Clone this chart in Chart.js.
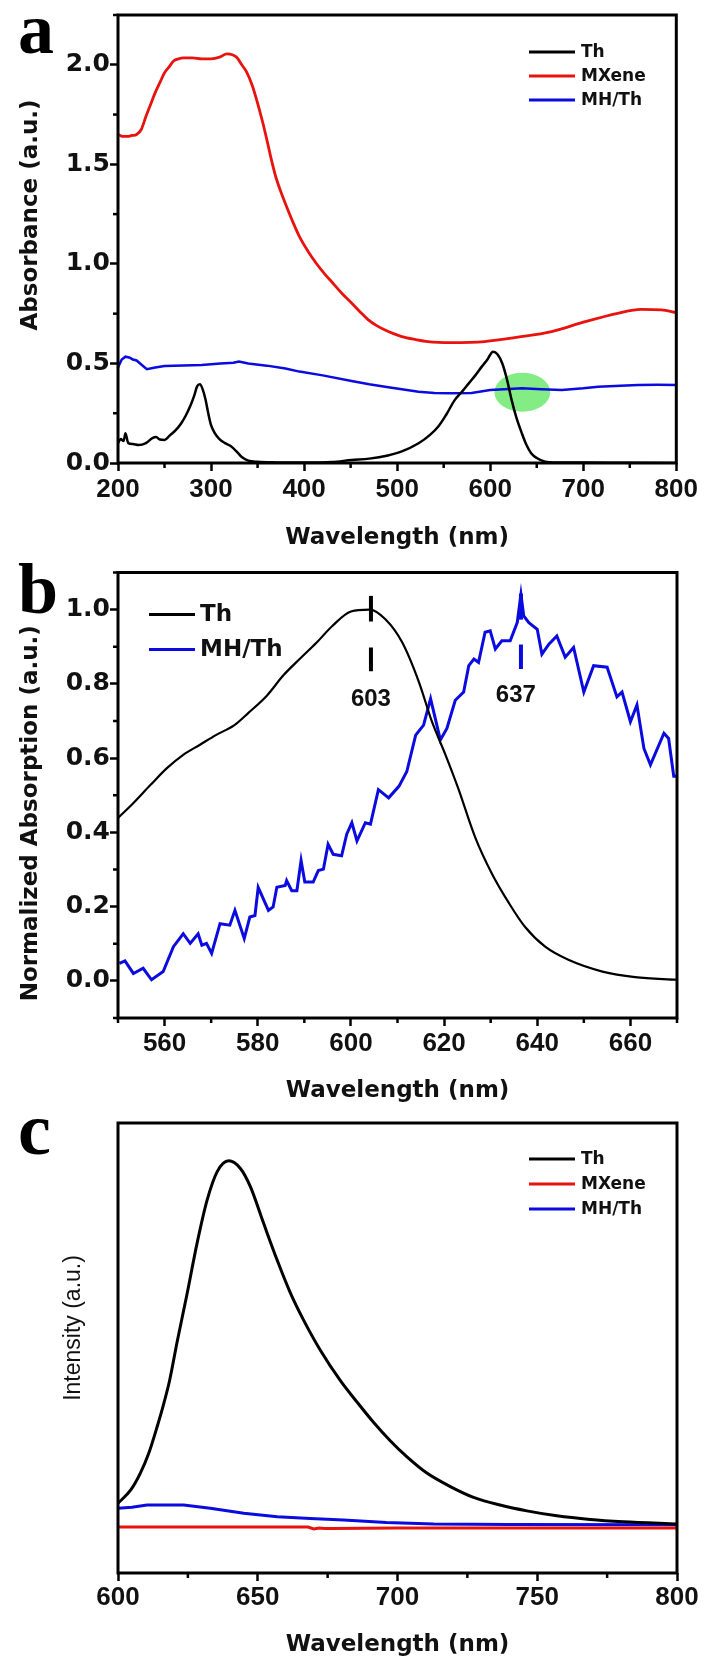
<!DOCTYPE html>
<html>
<head>
<meta charset="utf-8">
<script src="https://cdn.jsdelivr.net/npm/chart.js@4.4.1/dist/chart.umd.min.js"></script>
<style>
  html, body { margin: 0; padding: 0; background: #fff; }
  body { width: 704px; height: 1660px; position: relative; overflow: hidden; }
  canvas { position: absolute; left: 0; }
  .tag { position: absolute; left: 18px; z-index: 2; font-family: "Liberation Serif", "Times New Roman", serif; font-weight: bold; color: #000; line-height: 1; }
</style>
</head>
<body>
<canvas id="chartA" width="704" height="560" style="top:0"></canvas>
<canvas id="chartB" width="704" height="550" style="top:560px"></canvas>
<canvas id="chartC" width="704" height="550" style="top:1110px"></canvas>
<div class="tag" style="top:-7px;font-size:72px">a</div>
<div class="tag" style="top:553px;font-size:72px">b</div>
<div class="tag" style="top:1092px;font-size:74px">c</div>
<script>
// ---- panel a : UV-vis absorbance ----
const thAx = [200, 203, 206, 208, 211, 216, 222, 230, 237, 241,
              245, 250, 256, 262, 268, 273, 278, 282, 285, 288,
              291, 294, 297, 300, 304, 309, 315, 321, 327, 333,
              340, 350, 370, 400, 430, 451, 470, 490, 505, 523,
              535, 544, 553, 562, 570, 577, 584, 591, 597, 603,
              608, 613, 618, 623, 628, 634, 639, 644, 650, 659,
              670, 700, 750, 800];
const thAy = [0.10, 0.12, 0.11, 0.15, 0.10, 0.095, 0.09, 0.10, 0.125, 0.13,
              0.118, 0.116, 0.14, 0.165, 0.2, 0.24, 0.29, 0.34, 0.385, 0.395,
              0.37, 0.32, 0.25, 0.19, 0.15, 0.12, 0.1, 0.085, 0.06, 0.03,
              0.012, 0.006, 0.003, 0.002, 0.005, 0.015, 0.022, 0.038, 0.058, 0.099,
              0.14, 0.182, 0.245, 0.317, 0.36, 0.4, 0.44, 0.484, 0.52, 0.559,
              0.545, 0.5, 0.42, 0.317, 0.23, 0.149, 0.09, 0.049, 0.025, 0.007,
              0.003, 0.002, 0.001, 0];

const mxAx = [200, 205, 210, 215, 220, 225, 230, 235, 240, 245,
              250, 255, 260, 265, 270, 280, 290, 300, 310, 317,
              323, 328, 333, 338, 344, 349, 355, 360, 365, 370,
              376, 381, 388, 395, 404, 413, 422, 431, 441, 451,
              460, 469, 478, 487, 496, 505, 520, 533, 558, 594,
              630, 666, 702, 737, 762, 784, 800];
const mxAy = [1.65, 1.64, 1.64, 1.645, 1.65, 1.675, 1.74, 1.8, 1.86, 1.91,
              1.96, 1.99, 2.02, 2.03, 2.035, 2.035, 2.03, 2.03, 2.04, 2.055,
              2.05, 2.035, 2.0, 1.966, 1.9, 1.824, 1.72, 1.623, 1.52, 1.43,
              1.35, 1.29, 1.21, 1.137, 1.065, 1.003, 0.95, 0.903, 0.85, 0.804,
              0.76, 0.719, 0.69, 0.668, 0.65, 0.635, 0.62, 0.61, 0.605, 0.61,
              0.632, 0.66, 0.71, 0.752, 0.772, 0.769, 0.755];

const mhAx = [200, 204, 208, 212, 216, 220, 225, 231, 240, 250,
              270, 290, 310, 324, 330, 340, 360, 380, 395, 420,
              451, 470, 487, 505, 523, 540, 558, 580, 600, 620,
              634, 655, 677, 700, 716, 740, 759, 780, 800];
const mhAy = [0.48, 0.52, 0.534, 0.53, 0.52, 0.515, 0.495, 0.471, 0.48, 0.487,
              0.49, 0.492, 0.5, 0.504, 0.51, 0.5, 0.489, 0.475, 0.459, 0.44,
              0.412, 0.395, 0.383, 0.37, 0.358, 0.352, 0.35, 0.352, 0.367, 0.372,
              0.375, 0.37, 0.367, 0.375, 0.383, 0.388, 0.392, 0.393, 0.392];

// ---- panel b : normalized absorption ----
const thBx = [550, 553, 557, 560.5, 564, 567.6, 571, 575, 578, 582,
              585.5, 589, 592.7, 596, 600, 604, 607.4, 611, 614.6, 617.4,
              620.3, 623, 626.7, 630.3, 634, 637.4, 641.7, 646.8, 654, 661,
              670];
const thBy = [0.439, 0.475, 0.528, 0.573, 0.609, 0.636, 0.662, 0.689, 0.722, 0.769,
              0.823, 0.867, 0.912, 0.956, 0.995, 1.0, 0.974, 0.912, 0.805, 0.698,
              0.609, 0.52, 0.386, 0.288, 0.208, 0.145, 0.092, 0.056, 0.025, 0.01,
              0.003];

const mhBx = [550.3, 551.5, 553.3, 555.4, 557.2, 559.7, 561.9, 564, 565.5, 567.2,
              568, 569, 570.1, 571.9, 574, 575.1, 577.1, 578.3, 579.4, 580.1,
              582.3, 583.3, 584.1, 585.9, 586.2, 587.3, 588.4, 589.3, 590.1, 591.9,
              593, 594.1, 595.1, 596.2, 598, 599.1, 600.2, 601.3, 603.1, 604.2,
              605.9, 608.1, 610.3, 612, 613.9, 615.6, 617.1, 619.2, 620.6, 622.4,
              624.2, 625.3, 626.4, 627.4, 628.8, 629.9, 631, 632.4, 634.2, 635.7,
              636.5, 637.1, 638.2, 640, 641, 642.5, 644.2, 646, 647.8, 650,
              652.1, 655, 657.1, 658.2, 660, 661.4, 662.9, 664.3, 667.2, 668.2,
              669.3, 670];
const mhBy = [0.047, 0.054, 0.02, 0.034, 0.003, 0.025, 0.092, 0.127, 0.101, 0.127,
              0.096, 0.101, 0.074, 0.154, 0.15, 0.19, 0.114, 0.172, 0.176, 0.252,
              0.19, 0.199, 0.252, 0.257, 0.27, 0.243, 0.243, 0.324, 0.266, 0.266,
              0.297, 0.301, 0.368, 0.341, 0.337, 0.395, 0.426, 0.377, 0.426, 0.422,
              0.515, 0.493, 0.524, 0.564, 0.662, 0.689, 0.76, 0.649, 0.68, 0.756,
              0.778, 0.849, 0.867, 0.858, 0.939, 0.943, 0.894, 0.916, 0.916, 0.965,
              1.041, 0.983, 0.965, 0.947, 0.88, 0.907, 0.929, 0.872, 0.898, 0.778,
              0.849, 0.845, 0.765, 0.778, 0.698, 0.743, 0.626, 0.582, 0.667, 0.653,
              0.551, 0.551];

// ---- panel c : fluorescence (arbitrary units, no y ticks) ----
const thCx = [600, 604.5, 608, 611, 614, 616.4, 618.5, 621.2, 624.7, 628.3,
              631.9, 635.5, 639.6, 643.8, 647.4, 652.1, 656.9, 661.7, 666.4, 672.4,
              679.5, 685.5, 691.4, 697.4, 703.4, 710.5, 718.9, 727.2, 736.7, 746.3,
              757, 768.9, 780.8, 800];
const thCy = [0.155, 0.184, 0.222, 0.266, 0.325, 0.377, 0.429, 0.515, 0.62, 0.733,
              0.829, 0.892, 0.916, 0.899, 0.858, 0.777, 0.696, 0.622, 0.562, 0.495,
              0.428, 0.38, 0.335, 0.294, 0.258, 0.222, 0.192, 0.168, 0.151, 0.138,
              0.127, 0.119, 0.114, 0.109];
const mxCx = [600, 640, 668, 670, 672, 674, 676, 700, 740, 800];
const mxCy = [0.102, 0.102, 0.102, 0.098, 0.1, 0.099, 0.099, 0.1, 0.1, 0.1];
const mhCx = [600, 605, 610.4, 623.5, 633, 645, 657, 668.8, 680.7, 696,
              713, 740, 800];
const mhCy = [0.144, 0.146, 0.151, 0.151, 0.144, 0.133, 0.125, 0.121, 0.118, 0.112,
              0.109, 0.108, 0.107];

// ---- tick labels ----
const tickAx = [200, 300, 400, 500, 600, 700, 800];
const tickAy = [0, 0.5, 1.0, 1.5, 2.0];
const tickBx = [560, 580, 600, 620, 640, 660];
const tickBy = [0, 0.2, 0.4, 0.6, 0.8, 1.0];
const tickCx = [600, 650, 700, 750, 800];

const RED = '#e8120f';
const BLUE = '#0b0be0';
const BLACK = '#000000';
const SANS = '"Liberation Sans", Arial, sans-serif';
const DEJA = '"DejaVu Sans", Verdana, sans-serif';

function xy(xs, ys) {
    return xs.map((x, i) => ({ x: x, y: ys[i] }));
}

function line(label, xs, ys, color, width, smooth) {
    return {
        label: label,
        data: xy(xs, ys),
        borderColor: color,
        backgroundColor: color,
        borderWidth: width,
        pointRadius: 0,
        fill: false,
        tension: smooth ? 0.4 : 0,
        cubicInterpolationMode: smooth ? 'monotone' : 'default'
    };
}

function xAxis(o) {
    return {
        type: 'linear', position: 'bottom', min: o.min, max: o.max,
        afterBuildTicks: s => { s.ticks = o.ticks.map(v => ({ value: v })); },
        ticks: { autoSkip: false, maxRotation: 0, color: '#111', padding: o.pad,
                 font: { family: SANS, size: 26, weight: 'bold', lineHeight: 1 } },
        grid: { drawOnChartArea: false, drawTicks: true, tickLength: 8, tickWidth: 2.5, tickColor: '#000' },
        border: { display: false },
        title: { display: true, text: 'Wavelength (nm)', color: '#111',
                 font: { family: DEJA, size: 23, weight: 'bold' }, padding: { top: 0, bottom: o.titlePad } },
        afterFit: s => { s.height = o.height; }
    };
}

function yAxis(o) {
    const show = o.ticks != null;
    return {
        type: 'linear', position: 'left', min: o.min, max: o.max,
        afterBuildTicks: s => { if (show) s.ticks = o.ticks.map(v => ({ value: v })); },
        ticks: { display: show, font: { family: DEJA, size: 25, weight: 'bold', lineHeight: 1 },
                 color: '#111', padding: 0, callback: v => v.toFixed(1) },
        grid: { drawOnChartArea: false, drawTicks: show, tickLength: 8, tickWidth: 2.5, tickColor: '#000' },
        border: { display: false },
        afterFit: s => { s.width = 118; }
    };
}

// frame round the plot plus short minor ticks
const framePlugin = {
    id: 'frame',
    afterDraw(chart, args, opts) {
        const { ctx, chartArea: a } = chart;
        ctx.save();
        ctx.strokeStyle = '#000';
        ctx.lineWidth = 2.5;
        const minor = (scale, step, horiz) => {
            if (!step) return;
            const major = scale.ticks.map(t => t.value);
            const n = Math.round((scale.max - scale.min) / step);
            for (let k = 0; k <= n; k++) {
                const v = scale.min + k * step;
                if (major.some(m => Math.abs(m - v) < step / 10)) continue;
                const p = scale.getPixelForValue(v);
                ctx.beginPath();
                if (horiz) { ctx.moveTo(p, a.bottom); ctx.lineTo(p, a.bottom + 5); }
                else { ctx.moveTo(a.left, p); ctx.lineTo(a.left - 5, p); }
                ctx.stroke();
            }
        };
        minor(chart.scales.x, opts.minorX, true);
        minor(chart.scales.y, opts.minorY, false);
        ctx.lineWidth = 3;
        ctx.strokeRect(a.left, a.top, a.right - a.left, a.bottom - a.top);
        ctx.restore();
    }
};

// y axis title placed by hand (offset from the plot middle)
const yTitlePlugin = {
    id: 'ytitle',
    afterDraw(chart, args, o) {
        const { ctx, chartArea: a } = chart;
        ctx.save();
        ctx.translate(o.x, (a.top + a.bottom) / 2 + o.dy);
        ctx.rotate(-Math.PI / 2);
        ctx.font = o.font;
        ctx.fillStyle = '#111';
        ctx.textAlign = 'center';
        ctx.textBaseline = 'middle';
        ctx.fillText(o.text, 0, 0);
        ctx.restore();
    }
};

// legend drawn inside the plot
const legendPlugin = {
    id: 'inlegend',
    afterDraw(chart, args, o) {
        const { ctx, chartArea: a } = chart;
        ctx.save();
        ctx.font = o.font;
        ctx.textAlign = 'left';
        ctx.textBaseline = 'middle';
        chart.data.datasets.forEach((ds, i) => {
            const x = a.left + o.dx;
            const y = a.top + o.dy + i * o.gap;
            ctx.strokeStyle = ds.borderColor;
            ctx.lineWidth = 3;
            ctx.beginPath();
            ctx.moveTo(x, y);
            ctx.lineTo(x + o.len, y);
            ctx.stroke();
            ctx.fillStyle = '#111';
            ctx.fillText(ds.label, x + o.len + o.textGap, y + 1);
        });
        ctx.restore();
    }
};

// green highlight behind the curves (panel a)
const spotPlugin = {
    id: 'spot',
    beforeDatasetsDraw(chart, args, o) {
        if (o.cx == null) return;
        const { ctx, scales: { x, y } } = chart;
        const cx = x.getPixelForValue(o.cx);
        const cy = y.getPixelForValue(o.cy);
        const rx = Math.abs(x.getPixelForValue(o.cx + o.rx) - cx);
        const ry = Math.abs(y.getPixelForValue(o.cy + o.ry) - cy);
        ctx.save();
        ctx.fillStyle = o.color;
        ctx.beginPath();
        ctx.ellipse(cx, cy, rx, ry, 0, 0, Math.PI * 2);
        ctx.fill();
        ctx.restore();
    }
};

// peak markers with labels (panel b)
const peakPlugin = {
    id: 'peaks',
    afterDatasetsDraw(chart, args, o) {
        if (!o.marks) return;
        const { ctx, scales: { x, y } } = chart;
        ctx.save();
        o.marks.forEach(m => {
            const px = x.getPixelForValue(m.x);
            ctx.strokeStyle = m.color;
            ctx.lineWidth = 4;
            [m.upper, m.lower].forEach(seg => {
                ctx.beginPath();
                ctx.moveTo(px, y.getPixelForValue(seg[0]));
                ctx.lineTo(px, y.getPixelForValue(seg[1]));
                ctx.stroke();
            });
            ctx.font = 'bold 24px ' + SANS;
            ctx.fillStyle = '#111';
            ctx.textAlign = 'center';
            ctx.textBaseline = 'middle';
            ctx.fillText(m.label, x.getPixelForValue(m.labelX), y.getPixelForValue(m.labelY));
        });
        ctx.restore();
    }
};

const plugins = [spotPlugin, framePlugin, yTitlePlugin, legendPlugin, peakPlugin];

function base(datasets, scales, padTop, extra) {
    return {
        type: 'line',
        data: { datasets: datasets },
        options: {
            responsive: false,
            animation: false,
            devicePixelRatio: 1,
            layout: { padding: { top: padTop, right: 27, left: 0, bottom: 0 } },
            scales: scales,
            plugins: Object.assign({ legend: { display: false }, tooltip: { enabled: false } }, extra)
        },
        plugins: plugins
    };
}

new Chart(document.getElementById('chartA'), base(
    [
        line('Th', thAx, thAy, BLACK, 2.5, true),
        line('MXene', mxAx, mxAy, RED, 2.8, true),
        line('MH/Th', mhAx, mhAy, BLUE, 2.5, false)
    ],
    {
        x: xAxis({ min: 200, max: 800, ticks: tickAx, pad: 6, height: 97, titlePad: 8 }),
        y: yAxis({ min: 0, max: 2.25, ticks: tickAy })
    },
    15,
    {
        frame: { minorX: 50, minorY: 0.25 },
        ytitle: { text: 'Absorbance (a.u.)', x: 31, dy: -24, font: 'bold 23px ' + DEJA },
        inlegend: { dx: 411, dy: 37, gap: 24, len: 46, textGap: 6, font: 'bold 17px ' + DEJA },
        spot: { cx: 634.5, cy: 0.355, rx: 30, ry: 0.098, color: '#84ec84' }
    }
));

new Chart(document.getElementById('chartB'), base(
    [
        line('Th', thBx, thBy, BLACK, 2.2, true),
        line('MH/Th', mhBx, mhBy, BLUE, 3, false)
    ],
    {
        x: xAxis({ min: 550, max: 670, ticks: tickBx, pad: 5, height: 92, titlePad: 5 }),
        y: yAxis({ min: -0.1, max: 1.1, ticks: tickBy })
    },
    10,
    {
        frame: { minorX: 10, minorY: 0.1 },
        ytitle: { text: 'Normalized Absorption (a.u.)', x: 31, dy: 18, font: 'bold 23px ' + DEJA },
        inlegend: { dx: 31, dy: 42, gap: 35, len: 46, textGap: 5, font: 'bold 23px ' + DEJA },
        peaks: { marks: [
            { x: 604.3, upper: [1.037, 0.968], lower: [0.898, 0.834], label: '603', labelX: 604.3, labelY: 0.757, color: BLACK },
            { x: 636.5, upper: [1.043, 0.973], lower: [0.906, 0.84], label: '637', labelX: 635.4, labelY: 0.77, color: BLUE }
        ] }
    }
));

new Chart(document.getElementById('chartC'), base(
    [
        line('Th', thCx, thCy, BLACK, 3, true),
        line('MXene', mxCx, mxCy, RED, 3, false),
        line('MH/Th', mhCx, mhCy, BLUE, 3, false)
    ],
    {
        x: xAxis({ min: 600, max: 800, ticks: tickCx, pad: 4, height: 87, titlePad: 1 }),
        y: yAxis({ min: 0, max: 1, ticks: null })
    },
    13,
    {
        frame: { minorX: 25, minorY: 0 },
        ytitle: { text: 'Intensity (a.u.)', x: 74, dy: -20, font: '23px ' + SANS },
        inlegend: { dx: 411, dy: 36, gap: 25, len: 46, textGap: 6, font: 'bold 17px ' + DEJA }
    }
));
</script>
</body>
</html>
